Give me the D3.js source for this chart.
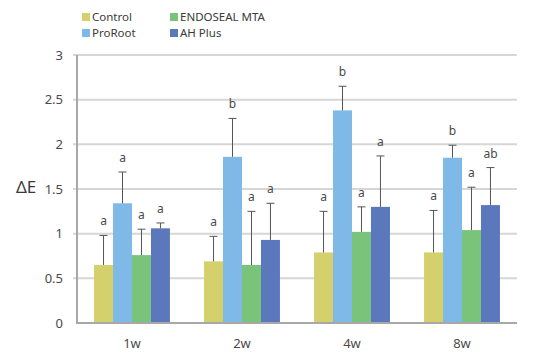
<!DOCTYPE html>
<html><head><meta charset="utf-8">
<script src="https://cdn.jsdelivr.net/npm/d3@7/dist/d3.min.js"></script>
<style>body{margin:0;background:#fff}svg{display:block}</style>
</head><body>
<svg id="c" width="552" height="357"></svg>
<script>
const weeks = ["1w", "2w", "4w", "8w"];
const groups = ["Control", "ProRoot", "ENDOSEAL MTA", "AH Plus"];
const colors = ["#d4d06b", "#7eb9e8", "#79c47a", "#5b78bd"];
const means = {
  "Control":      [0.65, 0.69, 0.79, 0.79],
  "ProRoot":      [1.34, 1.86, 2.38, 1.85],
  "ENDOSEAL MTA": [0.76, 0.65, 1.02, 1.04],
  "AH Plus":      [1.06, 0.93, 1.30, 1.32]
};
const sds = {
  "Control":      [0.33, 0.28, 0.46, 0.47],
  "ProRoot":      [0.35, 0.43, 0.27, 0.14],
  "ENDOSEAL MTA": [0.29, 0.60, 0.28, 0.48],
  "AH Plus":      [0.06, 0.41, 0.57, 0.42]
};
const letters = {
  "Control":      ["a", "a", "a", "a"],
  "ProRoot":      ["a", "b", "b", "b"],
  "ENDOSEAL MTA": ["a", "a", "a", "a"],
  "AH Plus":      ["a", "a", "a", "ab"]
};
const yTicks = [0, 0.5, 1, 1.5, 2, 2.5, 3];
const yLabel = "ΔE";

(function () {
const svg = d3.select("#c");
const font = "'Noto Sans', 'DejaVu Sans', sans-serif";
const mLeft = 77, mRight = 517, mTop = 55, mBottom = 323;

const x0 = d3.scaleBand().domain(weeks).range([mLeft, mRight]).paddingInner(0.31).paddingOuter(0.155);
const x1 = d3.scaleBand().domain(groups).range([0, x0.bandwidth()]);
const y = d3.scaleLinear().domain([0, 3]).range([mBottom, mTop]);

// gridlines
svg.append("g").selectAll("line").data(yTicks.filter(d => d > 0)).join("line")
  .attr("x1", mLeft - 4).attr("x2", mRight)
  .attr("y1", d => y(d)).attr("y2", d => y(d))
  .attr("stroke", "#d6d6d6").attr("stroke-width", 2);

// y axis
const yAxis = d3.axisLeft(y).tickValues(yTicks).tickFormat(d => d).tickSize(0).tickPadding(14);
const ga = svg.append("g").attr("transform", `translate(${mLeft},0)`).call(yAxis);
ga.select(".domain").remove();
ga.selectAll("text").attr("font-family", font).attr("font-size", 13).attr("fill", "#4a4a4a");
svg.append("line").attr("x1", mLeft).attr("x2", mLeft).attr("y1", mTop).attr("y2", mBottom)
  .attr("stroke", "#a8a8a8").attr("stroke-width", 2);

// bars
const gw = svg.append("g").selectAll("g").data(weeks).join("g")
  .attr("transform", d => `translate(${x0(d)},0)`);
groups.forEach((g, gi) => {
  gw.append("rect")
    .attr("x", x1(g)).attr("width", x1.bandwidth())
    .attr("y", (d, i) => y(means[g][i]))
    .attr("height", (d, i) => y(0) - y(means[g][i]))
    .attr("fill", colors[gi]);
});
// error bars
groups.forEach((g, gi) => {
  const cx = x1(g) + x1.bandwidth() / 2;
  gw.append("line").attr("x1", cx).attr("x2", cx)
    .attr("y1", (d, i) => y(means[g][i]))
    .attr("y2", (d, i) => y(means[g][i] + sds[g][i]))
    .attr("stroke", "#555").attr("stroke-width", 1);
  gw.append("line").attr("x1", cx - 4).attr("x2", cx + 4)
    .attr("y1", (d, i) => y(means[g][i] + sds[g][i]))
    .attr("y2", (d, i) => y(means[g][i] + sds[g][i]))
    .attr("stroke", "#555").attr("stroke-width", 1);
  gw.append("text").attr("x", cx)
    .attr("y", (d, i) => y(means[g][i] + sds[g][i]) - 10)
    .attr("text-anchor", "middle")
    .attr("font-family", font).attr("font-size", 12).attr("fill", "#4a4a4a")
    .text((d, i) => letters[g][i]);
});

// x axis
svg.append("line").attr("x1", mLeft - 1).attr("x2", mRight).attr("y1", mBottom).attr("y2", mBottom)
  .attr("stroke", "#a8a8a8").attr("stroke-width", 2);
const xAxis = d3.axisBottom(x0).tickSize(0).tickPadding(16);
const gx = svg.append("g").attr("transform", `translate(0,${mBottom})`).call(xAxis);
gx.select(".domain").remove();
gx.selectAll("text").attr("font-family", font).attr("font-size", 13).attr("fill", "#4a4a4a");

// y label
svg.append("text").attr("x", 16).attr("y", 193).attr("font-family", font)
  .attr("font-size", 17).attr("fill", "#3a3a3a").text(yLabel);

// legend
const legPos = [[82, 13], [82, 29], [170, 13], [170, 29]];
const legOrder = ["Control", "ProRoot", "ENDOSEAL MTA", "AH Plus"];
const lg = svg.append("g").selectAll("g").data(legOrder).join("g")
  .attr("transform", (d, i) => `translate(${legPos[i][0]},${legPos[i][1]})`);
lg.append("rect").attr("width", 8).attr("height", 8).attr("fill", d => colors[groups.indexOf(d)]);
lg.append("text").attr("x", 10).attr("y", 8).attr("font-family", font).attr("font-size", 11.5)
  .attr("fill", "#3a3a3a").text(d => d);
})();
</script>
</body></html>
